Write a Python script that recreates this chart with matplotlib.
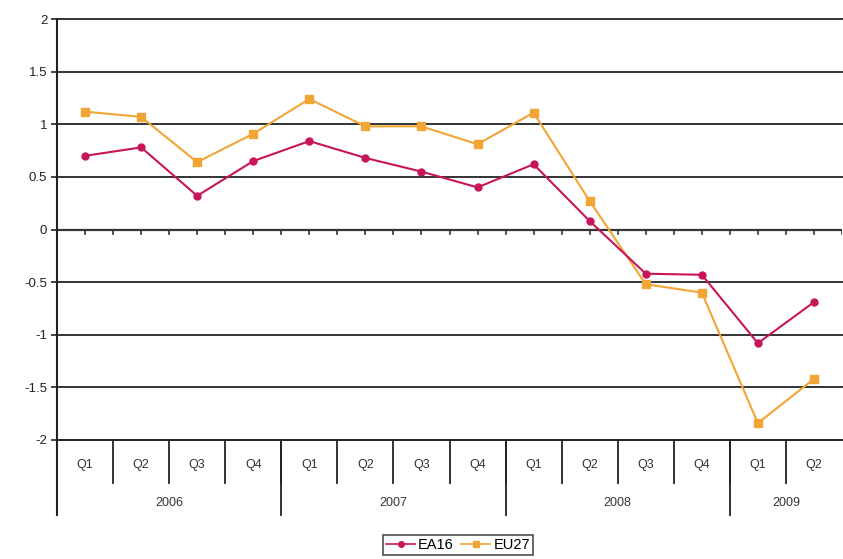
import matplotlib
matplotlib.use("Agg")
import matplotlib.pyplot as plt
import numpy as np
from matplotlib.lines import Line2D

quarters = ["Q1", "Q2", "Q3", "Q4", "Q1", "Q2", "Q3", "Q4", "Q1", "Q2", "Q3", "Q4", "Q1", "Q2"]
years = ["2006", "2007", "2008", "2009"]
year_counts = [4, 4, 4, 2]
ea16 = [0.70, 0.78, 0.32, 0.65, 0.84, 0.68, 0.55, 0.40, 0.62, 0.08, -0.42, -0.43, -1.08, -0.69]
eu27 = [1.12, 1.07, 0.64, 0.91, 1.24, 0.98, 0.98, 0.81, 1.11, 0.27, -0.52, -0.60, -1.84, -1.42]
yticks = [2, 1.5, 1, 0.5, 0, -0.5, -1, -1.5, -2]

plt.rcParams['font.family'] = ['Liberation Sans', 'DejaVu Sans']

W, H = 843, 559
fig = plt.figure(figsize=(W / 100, H / 100), dpi=100)
left, right, top, bottom = 57, 842, 19, 440
ax = fig.add_axes([left / W, 1 - bottom / H, (right - left) / W, (bottom - top) / H])

n = len(quarters)
x = np.arange(n)
ea_col = "#C8155A"
eu_col = "#F0A535"
ax.plot(x, eu27, color=eu_col, lw=1.5, marker="s", ms=6, zorder=3)
ax.plot(x, ea16, color=ea_col, lw=1.5, marker="o", ms=5, zorder=4)

ax.set_xlim(-0.5, n - 0.5)
ax.set_ylim(-2, 2)
ax.set_yticks(yticks)
ax.set_yticklabels([f"{v:g}" for v in yticks], fontsize=9.5, color="#222222")
ax.tick_params(axis="y", length=4, width=1.2, color="#222222", pad=3)
for v in yticks:
    if v != 0 and v != -2:
        ax.axhline(v, color="#333333", lw=1.4, zorder=1, clip_on=False)
ax.axhline(0, color="#333333", lw=1.6, zorder=2)
# small ticks on zero line
for t in np.arange(0, n, 0.5):
    ax.plot([t, t], [0, -0.045], color="#333333", lw=1.2, zorder=2)

ax.set_xticks([])
for s in ["top", "right"]:
    ax.spines[s].set_visible(False)
ax.spines["left"].set_color("#222222")
ax.spines["left"].set_linewidth(1.5)
ax.spines["bottom"].set_color("#222222")
ax.spines["bottom"].set_linewidth(1.4)

axh = bottom - top
xt = ax.get_xaxis_transform()
q_sep = -43 / axh
y_sep = -75 / axh
# quarter separators
for i in range(1, n):
    ax.plot([i - 0.5, i - 0.5], [0, q_sep], color="#222222", lw=1.3, transform=xt, clip_on=False)
# year separators
pos = -0.5
ax.plot([pos, pos], [0, y_sep], color="#222222", lw=1.5, transform=xt, clip_on=False)
for yl, c in zip(years, year_counts):
    ax.text(pos + c / 2, -63 / axh, yl, transform=xt, ha="center", va="center", fontsize=9, color="#333333")
    pos += c
    if pos < n - 0.5:
        ax.plot([pos, pos], [0, y_sep], color="#222222", lw=1.3, transform=xt, clip_on=False)
for i, q in enumerate(quarters):
    ax.text(i, -25 / axh, q, transform=xt, ha="center", va="center", fontsize=9, color="#333333")

handles = [Line2D([], [], color=ea_col, marker="o", ms=4, lw=1.2),
           Line2D([], [], color=eu_col, marker="s", ms=4, lw=1.2)]
leg = fig.legend(handles, ["EA16", "EU27"], loc="center", bbox_to_anchor=(458 / W, 1 - 545 / H),
                 ncol=2, fontsize=10.5, frameon=True, fancybox=False, edgecolor="#222222",
                 handlelength=2.0, handletextpad=0.2, columnspacing=0.5, borderpad=0.2)
leg.get_frame().set_linewidth(1.2)

fig.savefig("out.png", dpi=100)
